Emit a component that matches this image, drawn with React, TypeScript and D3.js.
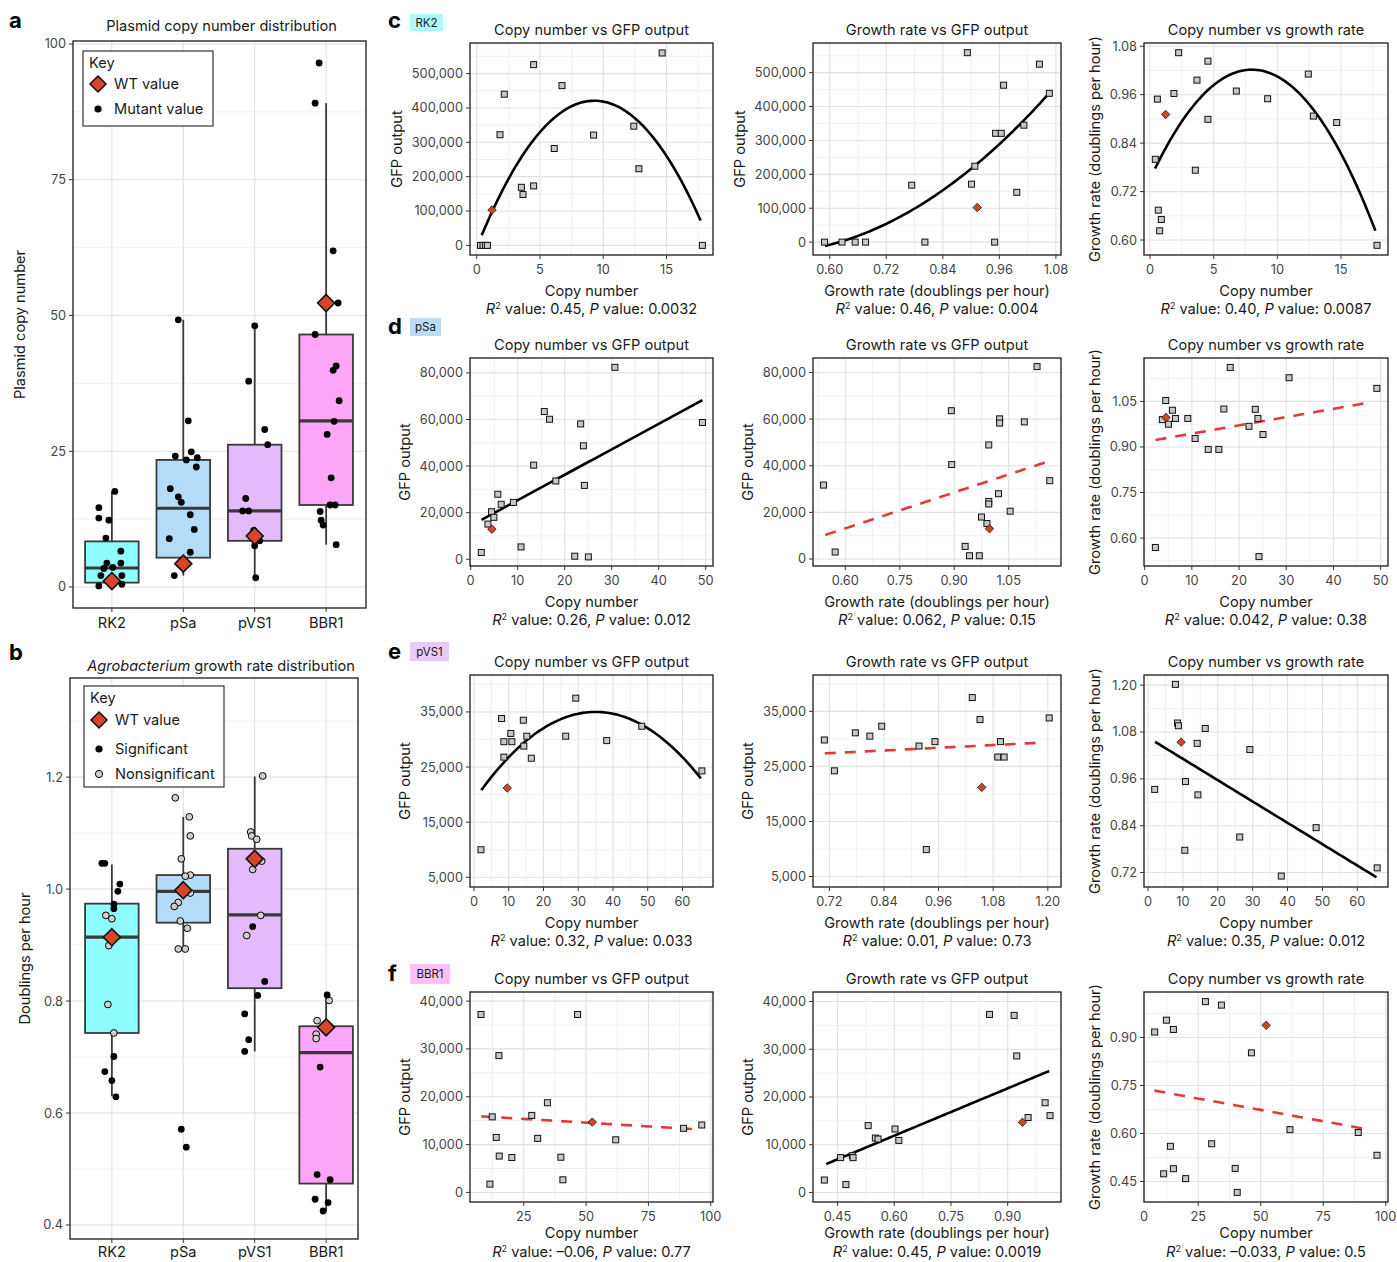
import React from 'react'
import * as d3 from 'd3'

const FONT = "Inter, 'Noto Sans', sans-serif"
const INK = '#1a1a1a'
const TICK_INK = '#444'
const GRID = '#e2e2e2'
const GRID_MINOR = '#eeeeee'
const WT_RED = '#d8432a'
const FIT_RED = '#e5383b'
const TXT = 14.6
const TICK = 12.8

// ---------- panels a / b : categories ----------
const categories = ['RK2', 'pSa', 'pVS1', 'BBR1']
const boxFills = ['#8ffdfd', '#b3dbfa', '#e3bbfa', '#fda5f6']
const tagFills = ['#adfcfc', '#b9ddf8', '#e9cafb', '#fcc0f7']

// panel a: plasmid copy number
const copyQ1 = [0.8, 5.4, 8.5, 15.1]
const copyMed = [3.5, 14.5, 14.0, 30.6]
const copyQ3 = [8.4, 23.4, 26.2, 46.5]
const copyLo = [0.2, 2.1, 1.7, 7.8]
const copyHi = [17.6, 49.2, 48.1, 89.1]
const copyWT = [1.1, 4.3, 9.4, 52.3]
const copyRK2 = [17.6, 14.6, 12.7, 12.3, 9.0, 6.6, 4.4, 4.4, 3.6, 3.4, 2.1, 2.1, 0.2, 0.5]
const copyRK2Dx = [3, -13, -13, -3, -6, 9, -5, 9, 1, -8, -11, 10, -13, 10]
const copyPSa = [49.2, 30.6, 24.1, 24.9, 23.4, 23.8, 22.1, 18.1, 16.6, 15.6, 13.3, 10.6, 8.9, 6.4, 2.1]
const copyPSaDx = [-5, 5, -8, 8, 3, 14, 13, -13, -5, -2, 7, 11, -14, 7, -9]
const copyPVS1 = [48.1, 37.9, 29.0, 26.2, 16.3, 14.0, 14.0, 10.4, 8.5, 7.6, 1.7]
const copyPVS1Dx = [0, -6, 10, 13, -9, -6, -12, -1, 5, 0, 1]
const copyBBR1 = [96.5, 89.1, 61.9, 52.3, 46.5, 40.7, 39.9, 34.3, 30.5, 28.1, 20.1, 15.1, 15.1, 13.9, 12.3, 11.4, 7.8]
const copyBBR1Dx = [-7, -11, 7, 12, -11, 10, 7, 13, 8, 1, 5, 4, 9, -6, -5, -3, 10]

// panel b: growth rate
const growthQ1 = [0.743, 0.94, 0.823, 0.474]
const growthMed = [0.914, 0.996, 0.954, 0.708]
const growthQ3 = [0.974, 1.025, 1.072, 0.755]
const growthLo = [0.63, 0.892, 0.71, 0.425]
const growthHi = [1.044, 1.129, 1.201, 0.811]
const growthWT = [0.914, 0.998, 1.054, 0.753]
const sigRK2 = [1.046, 1.046, 1.009, 0.996, 0.973, 0.965, 0.701, 0.674, 0.658, 0.629]
const sigRK2Dx = [-10, -7, 8, 6, 2, 2, 2, -7, 0, 4]
const nsRK2 = [0.953, 0.947, 0.899, 0.794, 0.743]
const nsRK2Dx = [-6, 0, -3, -4, 2]
const sigPSa = [0.571, 0.539]
const sigPSaDx = [-2, 3]
const nsPSa = [1.163, 1.129, 1.095, 1.054, 1.025, 1.023, 0.993, 0.976, 0.969, 0.943, 0.93, 0.893, 0.893]
const nsPSaDx = [-8, 6, 7, -2, 7, 2, 7, -5, -9, -3, 4, -5, 2]
const sigPVS1 = [0.933, 0.835, 0.81, 0.777, 0.731, 0.71]
const sigPVS1Dx = [-2, 10, 3, -10, -6, -10]
const nsPVS1 = [1.202, 1.102, 1.095, 1.089, 1.05, 1.035, 0.953, 0.917]
const nsPVS1Dx = [8, -4, -3, 2, 7, -2, 6, -8]
const sigBBR1 = [0.811, 0.682, 0.49, 0.481, 0.446, 0.44, 0.425]
const sigBBR1Dx = [1, -6, -9, 4, -11, 2, -3]
const nsBBR1 = [0.801, 0.765, 0.741, 0.733]
const nsBBR1Dx = [3, -9, -10, -10]

// ---------- scatter panels c-f ----------
// fits: y = a + b*x + c*x^2 over [from, to]
const c1Copy = [0.3, 0.5, 0.7, 0.85, 1.84, 2.18, 3.53, 3.66, 4.5, 4.5, 6.13, 6.74, 9.24, 12.42, 12.82, 14.66, 17.84]
const c1Gfp = [0, 0, 0, 0, 322000, 440000, 169000, 148000, 526000, 173000, 282000, 465000, 321000, 347000, 223000, 560000, 0]
const c1Fit = [-6260, 91880, -4940]
const c2Growth = [0.589, 0.626, 0.654, 0.676, 0.802, 0.95, 0.774, 0.892, 0.901, 0.908, 0.952, 0.964, 0.969, 0.997, 1.012, 1.045, 1.066]
const c2Gfp = [0, 0, 0, 0, 0, 0, 168000, 559000, 171000, 224000, 321000, 321000, 463000, 147000, 345000, 525000, 439000]
const c2Fit = [237160, -1179600, 1285000]
const c3Copy = [2.25, 4.55, 3.69, 1.88, 0.58, 6.78, 9.24, 12.43, 12.83, 14.66, 4.55, 0.42, 3.56, 0.65, 0.89, 0.76, 17.83]
const c3Growth = [1.064, 1.043, 0.996, 0.963, 0.949, 0.969, 0.95, 1.011, 0.907, 0.891, 0.899, 0.8, 0.773, 0.674, 0.651, 0.623, 0.587]
const c3Fit = [0.75064, 0.06784, -0.00424]

const d1Copy = [2.26, 3.67, 4.44, 4.94, 5.78, 6.49, 9.1, 10.72, 13.4, 15.66, 16.78, 18.12, 22.14, 23.4, 23.98, 24.19, 25.04, 30.68, 49.3]
const d1Gfp = [2900, 15100, 20400, 18000, 27900, 23600, 24400, 5300, 40400, 63400, 60100, 33600, 1300, 58100, 48700, 31700, 1000, 82400, 58700]
const d1Fit = [14385, 1093.6, 0]
const d2Growth = [0.54, 0.572, 0.892, 0.893, 0.93, 0.942, 0.969, 0.975, 0.99, 0.995, 0.995, 0.995, 1.022, 1.025, 1.025, 1.054, 1.093, 1.128, 1.163]
const d2Gfp = [31700, 3000, 63600, 40500, 5400, 1400, 1400, 18000, 15200, 24700, 23600, 48900, 28000, 60100, 58300, 20500, 58800, 82500, 33600]
const d2Fit = [-17700, 51380, 0]
const d3Copy = [2.27, 3.75, 4.46, 5.03, 5.88, 6.52, 9.14, 10.69, 13.46, 15.72, 16.78, 18.13, 22.1, 23.44, 24.0, 24.22, 25.07, 30.6, 49.2]
const d3Growth = [0.569, 0.99, 1.053, 0.975, 1.021, 0.994, 0.994, 0.928, 0.892, 0.892, 1.025, 1.162, 0.968, 1.024, 0.994, 0.539, 0.941, 1.128, 1.093]
const d3Fit = [0.9167, 0.002721, 0]

const e1Copy = [2.0, 7.94, 8.6, 8.6, 10.6, 10.9, 14.2, 14.35, 15.2, 16.5, 26.4, 29.3, 38.2, 48.3, 65.6]
const e1Gfp = [10000, 33800, 29600, 26800, 31100, 29600, 33500, 28800, 30600, 26600, 30600, 37500, 29800, 32400, 24300]
const e1Fit = [18930, 918.4, -13.12]
const e2Growth = [0.709, 0.731, 0.777, 0.809, 0.835, 0.917, 0.933, 0.952, 1.034, 1.051, 1.09, 1.096, 1.104, 1.203]
const e2Gfp = [29800, 24200, 31100, 30500, 32300, 28700, 9900, 29500, 37500, 33500, 26700, 29500, 26700, 33800]
const e2Fit = [24458, 4086, 0]
const e3Copy = [1.92, 7.86, 8.44, 8.72, 10.74, 10.55, 14.1, 14.3, 16.4, 26.3, 29.2, 38.2, 48.2, 65.7]
const e3Growth = [0.933, 1.202, 1.103, 1.096, 0.953, 0.777, 1.051, 0.919, 1.089, 0.811, 1.035, 0.711, 0.835, 0.732]
const e3Fit = [1.0659, -0.005465, 0]

const f1Copy = [7.86, 11.45, 12.38, 13.98, 15.05, 15.18, 20.24, 28.23, 30.6, 34.5, 39.9, 40.7, 46.6, 61.9, 89.1, 96.4]
const f1Gfp = [37200, 1740, 15800, 11500, 28600, 7600, 7300, 16100, 11300, 18750, 7360, 2640, 37200, 11000, 13400, 14100]
const f1Fit = [16150, -31.29, 0]
const f2Growth = [0.415, 0.458, 0.472, 0.489, 0.491, 0.531, 0.55, 0.557, 0.602, 0.612, 0.852, 0.917, 0.924, 0.954, 0.999, 1.012]
const f2Gfp = [2600, 7300, 1650, 7700, 7300, 14000, 11400, 11200, 13300, 10900, 37300, 37100, 28600, 15700, 18800, 16100]
const f2Fit = [-7930, 33050, 0]
const f3Copy = [7.6, 12.3, 15.1, 27.9, 34.3, 46.3, 61.7, 89.0, 96.5, 13.9, 30.4, 11.2, 15.1, 20.0, 39.8, 40.6]
const f3Growth = [0.917, 0.954, 0.925, 1.012, 1.001, 0.852, 0.612, 0.603, 0.532, 0.56, 0.568, 0.474, 0.49, 0.459, 0.491, 0.416]
const f3Fit = [0.7446, -0.0014186, 0]

const commaFmt = d3.format(',')
const f2 = d3.format('.2f')
const plain = (v: number) => String(v)

function minorTicks(ticks: number[], domain: number[]) {
  const step = ticks[1] - ticks[0]
  const out: number[] = []
  for (let i = -1; i <= ticks.length + 1; i++) {
    const v = ticks[0] + step * (i + 0.5)
    if (v > domain[0] && v < domain[1]) out.push(v)
  }
  return out
}

const textW = (s: string, size = TICK) => {
  let w = 0
  for (const ch of s) w += /[0-9]/.test(ch) ? 0.62 : ch === ',' || ch === '.' ? 0.28 : 0.5
  return w * size
}

const diamond = (s: number) => `M0,${-s}L${s},0L0,${s}L${-s},0Z`

function Scatter(p: any) {
  const { left, top, width, height, xDomain, yDomain, xTicks, yTicks, xFmt, yFmt, xs, ys, wt, fit, fitRange, dashed, title, xLabel, yLabel, r2, pv, edgeZero, statsY, xLabelY } = p
  const right = left + width
  const bottom = top + height
  const x = d3.scaleLinear().domain(xDomain).range([left, right])
  const y = d3.scaleLinear().domain(yDomain).range([bottom, top])
  const fx = (v: number) => fit[0] + fit[1] * v + fit[2] * v * v
  const samples = d3.range(81).map((i) => fitRange[0] + ((fitRange[1] - fitRange[0]) * i) / 80)
  const path = d3.line<number>().x((v) => x(v)).y((v) => y(fx(v)))(samples) || ''
  const labelW = d3.max(yTicks as number[], (t) => textW(yFmt(t))) || 0
  const yTitleX = left - 8 - labelW - 14
  const cx = (left + right) / 2
  const cy = (top + bottom) / 2
  return (
    <g>
      {minorTicks(yTicks, yDomain).map((v) => (
        <line key={'ym' + v} x1={left} x2={right} y1={y(v)} y2={y(v)} stroke={GRID_MINOR} strokeWidth={0.8} />
      ))}
      {minorTicks(xTicks, xDomain).map((v) => (
        <line key={'xm' + v} y1={top} y2={bottom} x1={x(v)} x2={x(v)} stroke={GRID_MINOR} strokeWidth={0.8} />
      ))}
      {yTicks.map((v: number) => (
        <line key={'yg' + v} x1={left} x2={right} y1={y(v)} y2={y(v)} stroke={GRID} strokeWidth={1.1} />
      ))}
      {xTicks.map((v: number) => (
        <line key={'xg' + v} y1={top} y2={bottom} x1={x(v)} x2={x(v)} stroke={GRID} strokeWidth={1.1} />
      ))}
      <path d={path} fill="none" stroke={dashed ? FIT_RED : '#000'} strokeWidth={2.6} strokeDasharray={dashed ? '11,9' : undefined} />
      {xs.map((v: number, i: number) => (
        <rect key={'pt' + i} x={x(v) - 3} y={y(ys[i]) - 3} width={6} height={6} fill="#c8c8c8" stroke="#111" strokeWidth={1} />
      ))}
      <path d={diamond(4.2)} transform={`translate(${x(wt[0])},${y(wt[1])})`} fill={WT_RED} stroke="#222" strokeWidth={0.9} />
      <rect x={left} y={top} width={width} height={height} fill="none" stroke={INK} strokeWidth={1.3} />
      {yTicks.map((v: number) => (
        <g key={'yt' + v}>
          <line x1={left - 4} x2={left} y1={y(v)} y2={y(v)} stroke="#333" />
          <text x={left - 7} y={y(v)} dy="0.35em" textAnchor="end" fontSize={TICK} fill={TICK_INK}>{yFmt(v)}</text>
        </g>
      ))}
      {xTicks.map((v: number) => (
        <g key={'xt' + v}>
          <line y1={bottom} y2={bottom + 4} x1={x(v)} x2={x(v)} stroke="#333" />
          <text x={x(v)} y={bottom + 19} textAnchor="middle" fontSize={TICK} fill={TICK_INK}>{xFmt(v)}</text>
        </g>
      ))}
      {edgeZero && (
        <text x={left} y={bottom + 19} textAnchor="middle" fontSize={TICK} fill={TICK_INK}>0</text>
      )}
      <text x={cx} y={top - 8} textAnchor="middle" fontSize={TXT} fill={INK}>{title}</text>
      <text x={cx} y={xLabelY ?? bottom + 41} textAnchor="middle" fontSize={TXT} fill={INK}>{xLabel}</text>
      <text x={cx} y={statsY ?? bottom + 59} textAnchor="middle" fontSize={TXT} fill={INK}>
        <tspan fontStyle="italic">R</tspan>
        <tspan dy={-5} fontSize={9}>2</tspan>
        <tspan dy={5}>{` value: ${r2}, `}</tspan>
        <tspan fontStyle="italic">P</tspan>
        <tspan>{` value: ${pv}`}</tspan>
      </text>
      <text transform={`translate(${yTitleX},${cy}) rotate(-90)`} textAnchor="middle" dy="0.35em" fontSize={TXT} fill={INK}>{yLabel}</text>
    </g>
  )
}

function BoxPanel(p: any) {
  const { left, right, top, bottom, yDomain, yTicks, yFmt, q1, med, q3, lo, hi, groups, wt, title, yLabel, yLabelX, legend, catY } = p
  const x = d3.scalePoint<string>().domain(categories).range([69, 369]).padding(0.6)
  const y = d3.scaleLinear().domain(yDomain).range([bottom, top])
  const bw = x.step() * 0.75
  return (
    <g>
      {minorTicks(yTicks, yDomain).map((v) => (
        <line key={'ym' + v} x1={left} x2={right} y1={y(v)} y2={y(v)} stroke={GRID_MINOR} strokeWidth={0.8} />
      ))}
      {yTicks.map((v: number) => (
        <line key={'yg' + v} x1={left} x2={right} y1={y(v)} y2={y(v)} stroke={GRID} strokeWidth={1.1} />
      ))}
      {categories.map((c) => (
        <line key={'xg' + c} y1={top} y2={bottom} x1={x(c)} x2={x(c)} stroke={GRID} strokeWidth={1.1} />
      ))}
      {categories.map((c, i) => {
        const cx = x(c) as number
        return (
          <g key={'box' + c}>
            <line x1={cx} x2={cx} y1={y(hi[i])} y2={y(q3[i])} stroke="#3a3a3a" strokeWidth={1.8} />
            <line x1={cx} x2={cx} y1={y(q1[i])} y2={y(lo[i])} stroke="#3a3a3a" strokeWidth={1.8} />
            <rect x={cx - bw / 2} y={y(q3[i])} width={bw} height={y(q1[i]) - y(q3[i])} fill={boxFills[i]} stroke="#3a3a3a" strokeWidth={1.8} />
            <line x1={cx - bw / 2} x2={cx + bw / 2} y1={y(med[i])} y2={y(med[i])} stroke="#3a3a3a" strokeWidth={3.2} />
          </g>
        )
      })}
      {categories.map((c, i) =>
        groups[i].map((g: any, j: number) => (
          <circle key={c + 'p' + j} cx={(x(c) as number) + g.dx} cy={y(g.v)} r={3.4} fill={g.fill} stroke="#000" strokeWidth={g.fill === '#000' ? 0 : 1} />
        ))
      )}
      {categories.map((c, i) => (
        <path key={'wt' + c} d={diamond(8.5)} transform={`translate(${x(c)},${y(wt[i])})`} fill={WT_RED} stroke="#111" strokeWidth={1.6} />
      ))}
      <rect x={left} y={top} width={right - left} height={bottom - top} fill="none" stroke={INK} strokeWidth={1.3} />
      {yTicks.map((v: number) => (
        <g key={'yt' + v}>
          <line x1={left - 4} x2={left} y1={y(v)} y2={y(v)} stroke="#333" />
          <text x={left - 7} y={y(v)} dy="0.35em" textAnchor="end" fontSize={TICK} fill={TICK_INK}>{yFmt(v)}</text>
        </g>
      ))}
      {categories.map((c) => (
        <g key={'xt' + c}>
          <line y1={bottom} y2={bottom + 4} x1={x(c)} x2={x(c)} stroke="#333" />
          <text x={x(c)} y={catY ?? bottom + 20} textAnchor="middle" fontSize={TXT} fill={INK}>{c}</text>
        </g>
      ))}
      {title && (
        <text x={(left + right) / 2 + 2} y={top - 10} textAnchor="middle" fontSize={TXT} fill={INK}>{title}</text>
      )}
      <text transform={`translate(${yLabelX},${(top + bottom) / 2}) rotate(-90)`} textAnchor="middle" dy="0.35em" fontSize={TXT} fill={INK}>{yLabel}</text>
      <g>
        <rect x={legend.x} y={legend.y} width={legend.w} height={legend.h} fill="#fff" stroke="#333" strokeWidth={1.2} />
        <text x={legend.x + 6} y={legend.rows[0]} dy="0.35em" fontSize={TXT} fill={INK}>Key</text>
        {legend.items.map((it: any, k: number) => (
          <g key={'lg' + k}>
            {it.kind === 'wt' ? (
              <path d={diamond(8)} transform={`translate(${legend.x + 15},${legend.rows[k + 1]})`} fill={WT_RED} stroke="#111" strokeWidth={1.5} />
            ) : (
              <circle cx={legend.x + 15} cy={legend.rows[k + 1]} r={3.6} fill={it.fill} stroke="#000" strokeWidth={it.fill === '#000' ? 0 : 1} />
            )}
            <text x={legend.x + 31} y={legend.rows[k + 1]} dy="0.35em" fontSize={TXT} fill={INK}>{it.label}</text>
          </g>
        ))}
      </g>
    </g>
  )
}

const pts = (vals: number[], dx: number[], fill: string) => vals.map((v, i) => ({ v, dx: dx[i], fill }))

const colLeft = [470, 813, 1144]
const colWidth = [243, 248, 244]
const rowTop = [43, 358, 675, 992]
const rowHeight = [212, 208, 212, 210]
const letters = ['c', 'd', 'e', 'f']
const letterBase = [28, 334, 659, 981]
const tagBox = [
  [410, 14, 33, 17],
  [410, 318, 31, 18],
  [410, 642, 39, 19],
  [410, 964, 40, 20],
]

const App = () => {
  const GFP = 'GFP output'
  const GR = 'Growth rate (doublings per hour)'
  const CN = 'Copy number'
  const GRX = 'Growth rate (doublings per hour)'
  const t1 = 'Copy number vs GFP output'
  const t2 = 'Growth rate vs GFP output'
  const t3 = 'Copy number vs growth rate'
  const last = { xLabelY: 1238, statsY: 1257 }
  const rows = [
    [
      { xDomain: [-0.53, 18.68], yDomain: [-28000, 589000], xTicks: [0, 5, 10, 15], yTicks: [0, 100000, 200000, 300000, 400000, 500000], xFmt: plain, yFmt: commaFmt, xs: c1Copy, ys: c1Gfp, wt: [1.21, 103000], fit: c1Fit, fitRange: [0.4, 17.7], dashed: false, title: t1, xLabel: CN, yLabel: GFP, r2: '0.45', pv: '0.0032' },
      { xDomain: [0.5645, 1.0908], yDomain: [-38000, 587500], xTicks: [0.6, 0.72, 0.84, 0.96, 1.08], yTicks: [0, 100000, 200000, 300000, 400000, 500000], xFmt: f2, yFmt: commaFmt, xs: c2Growth, ys: c2Gfp, wt: [0.913, 102000], fit: c2Fit, fitRange: [0.59, 1.066], dashed: false, title: t2, xLabel: GRX, yLabel: GFP, r2: '0.46', pv: '0.004' },
      { xDomain: [-0.47, 18.69], yDomain: [0.563, 1.088], xTicks: [0, 5, 10, 15], yTicks: [0.6, 0.72, 0.84, 0.96, 1.08], xFmt: plain, yFmt: f2, xs: c3Copy, ys: c3Growth, wt: [1.23, 0.911], fit: c3Fit, fitRange: [0.4, 17.7], dashed: false, title: t3, xLabel: CN, yLabel: GR, r2: '0.40', pv: '0.0087' },
    ],
    [
      { xDomain: [-0.14, 51.55], yDomain: [-2900, 86400], xTicks: [0, 10, 20, 30, 40, 50], yTicks: [0, 20000, 40000, 60000, 80000], xFmt: plain, yFmt: commaFmt, xs: d1Copy, ys: d1Gfp, wt: [4.51, 12900], fit: d1Fit, fitRange: [2.3, 49.3], dashed: false, title: t1, xLabel: CN, yLabel: GFP, r2: '0.26', pv: '0.012' },
      { xDomain: [0.511, 1.194], yDomain: [-3000, 86200], xTicks: [0.6, 0.75, 0.9, 1.05], yTicks: [0, 20000, 40000, 60000, 80000], xFmt: f2, yFmt: commaFmt, xs: d2Growth, ys: d2Gfp, wt: [0.997, 13000], fit: d2Fit, fitRange: [0.545, 1.16], dashed: true, title: t2, xLabel: GRX, yLabel: GFP, r2: '0.062', pv: '0.15' },
      { xDomain: [-0.14, 51.56], yDomain: [0.508, 1.193], xTicks: [0, 10, 20, 30, 40, 50], yTicks: [0.6, 0.75, 0.9, 1.05], xFmt: plain, yFmt: f2, xs: d3Copy, ys: d3Growth, wt: [4.53, 0.997], fit: d3Fit, fitRange: [2.3, 47.5], dashed: true, title: t3, xLabel: CN, yLabel: GR, r2: '0.042', pv: '0.38' },
    ],
    [
      { xDomain: [-1.15, 68.8], yDomain: [3240, 41700], xTicks: [0, 10, 20, 30, 40, 50, 60], yTicks: [5000, 15000, 25000, 35000], xFmt: plain, yFmt: commaFmt, xs: e1Copy, ys: e1Gfp, wt: [9.57, 21200], fit: e1Fit, fitRange: [2.1, 65.3], dashed: false, title: t1, xLabel: CN, yLabel: GFP, r2: '0.32', pv: '0.033' },
      { xDomain: [0.684, 1.229], yDomain: [3100, 41600], xTicks: [0.72, 0.84, 0.96, 1.08, 1.2], yTicks: [5000, 15000, 25000, 35000], xFmt: f2, yFmt: commaFmt, xs: e2Growth, ys: e2Gfp, wt: [1.055, 21200], fit: e2Fit, fitRange: [0.71, 1.185], dashed: true, title: t2, xLabel: GRX, yLabel: GFP, r2: '0.01', pv: '0.73' },
      { xDomain: [-1.15, 68.8], yDomain: [0.683, 1.226], xTicks: [0, 10, 20, 30, 40, 50, 60], yTicks: [0.72, 0.84, 0.96, 1.08, 1.2], xFmt: plain, yFmt: f2, xs: e3Copy, ys: e3Growth, wt: [9.49, 1.054], fit: e3Fit, fitRange: [2.0, 65.5], dashed: false, title: t3, xLabel: CN, yLabel: GR, r2: '0.35', pv: '0.012' },
    ],
    [
      { xDomain: [3.46, 100.9], yDomain: [-2000, 41900], xTicks: [25, 50, 75, 100], yTicks: [0, 10000, 20000, 30000, 40000], xFmt: plain, yFmt: commaFmt, xs: f1Copy, ys: f1Gfp, wt: [52.5, 14700], fit: f1Fit, fitRange: [8, 94.3], dashed: true, title: t1, xLabel: CN, yLabel: GFP, r2: '\u20130.06', pv: '0.77', ...last },
      { xDomain: [0.385, 1.041], yDomain: [-2000, 42000], xTicks: [0.45, 0.6, 0.75, 0.9], yTicks: [0, 10000, 20000, 30000, 40000], xFmt: f2, yFmt: commaFmt, xs: f2Growth, ys: f2Gfp, wt: [0.939, 14700], fit: f2Fit, fitRange: [0.42, 1.01], dashed: false, title: t2, xLabel: GRX, yLabel: GFP, r2: '0.45', pv: '0.0019', ...last },
      { xDomain: [3.34, 100.9], yDomain: [0.386, 1.042], xTicks: [25, 50, 75, 100], yTicks: [0.45, 0.6, 0.75, 0.9], xFmt: plain, yFmt: f2, xs: f3Copy, ys: f3Growth, wt: [52.2, 0.938], fit: f3Fit, fitRange: [7.5, 93.5], dashed: true, title: t3, xLabel: CN, yLabel: GR, r2: '\u20130.033', pv: '0.5', edgeZero: true, ...last },
    ],
  ]

  const copyGroups = [
    pts(copyRK2, copyRK2Dx, '#000'),
    pts(copyPSa, copyPSaDx, '#000'),
    pts(copyPVS1, copyPVS1Dx, '#000'),
    pts(copyBBR1, copyBBR1Dx, '#000'),
  ]
  const growthGroups = [
    [...pts(nsRK2, nsRK2Dx, '#cfcfcf'), ...pts(sigRK2, sigRK2Dx, '#000')],
    [...pts(nsPSa, nsPSaDx, '#cfcfcf'), ...pts(sigPSa, sigPSaDx, '#000')],
    [...pts(nsPVS1, nsPVS1Dx, '#cfcfcf'), ...pts(sigPVS1, sigPVS1Dx, '#000')],
    [...pts(nsBBR1, nsBBR1Dx, '#cfcfcf'), ...pts(sigBBR1, sigBBR1Dx, '#000')],
  ]

  return (
    <svg width={1397} height={1262} style={{ position: 'absolute', left: 0, top: 0 }} fontFamily={FONT}>
      <rect width={1397} height={1262} fill="#fff" />
      <text x={9} y={28} fontSize={22} fontWeight="bold" fill="#000">a</text>
      <text x={9} y={660} fontSize={22} fontWeight="bold" fill="#000">b</text>
      <BoxPanel
        left={73} right={366} top={41} bottom={608}
        yDomain={[-3.87, 100.55]} yTicks={[0, 25, 50, 75, 100]} yFmt={plain}
        q1={copyQ1} med={copyMed} q3={copyQ3} lo={copyLo} hi={copyHi}
        groups={copyGroups} wt={copyWT}
        title="Plasmid copy number distribution" yLabel="Plasmid copy number" yLabelX={20}
        legend={{ x: 83, y: 51, w: 130, h: 75, rows: [63, 84, 109], items: [{ kind: 'wt', label: 'WT value' }, { kind: 'dot', fill: '#000', label: 'Mutant value' }] }}
      />
      <BoxPanel
        left={70} right={358} top={678} bottom={1239}
        yDomain={[0.375, 1.377]} yTicks={[0.4, 0.6, 0.8, 1.0, 1.2]} yFmt={d3.format('.1f')}
        q1={growthQ1} med={growthMed} q3={growthQ3} lo={growthLo} hi={growthHi}
        groups={growthGroups} wt={growthWT}
        title="" yLabel="Doublings per hour" yLabelX={25} catY={1257}
        legend={{ x: 84, y: 686, w: 140, h: 101, rows: [698, 720, 749, 774], items: [{ kind: 'wt', label: 'WT value' }, { kind: 'dot', fill: '#000', label: 'Significant' }, { kind: 'dot', fill: '#cfcfcf', label: 'Nonsignificant' }] }}
      />
      <text x={221} y={671} textAnchor="middle" fontSize={TXT} fill={INK}>
        <tspan fontStyle="italic">Agrobacterium</tspan>
        <tspan> growth rate distribution</tspan>
      </text>
      {rows.map((row, r) => (
        <g key={'row' + r}>
          <text x={388} y={letterBase[r]} fontSize={22} fontWeight="bold" fill="#000">{letters[r]}</text>
          <rect x={tagBox[r][0]} y={tagBox[r][1]} width={tagBox[r][2]} height={tagBox[r][3]} fill={tagFills[r]} />
          <text x={tagBox[r][0] + tagBox[r][2] / 2} y={tagBox[r][1] + tagBox[r][3] / 2} dy="0.35em" textAnchor="middle" fontSize={11.5} fill={INK}>{categories[r]}</text>
          {row.map((cfg, c) => (
            <Scatter key={'sc' + r + c} left={colLeft[c]} top={rowTop[r]} width={colWidth[c]} height={rowHeight[r]} {...cfg} />
          ))}
        </g>
      ))}
    </svg>
  )
}

export default App
